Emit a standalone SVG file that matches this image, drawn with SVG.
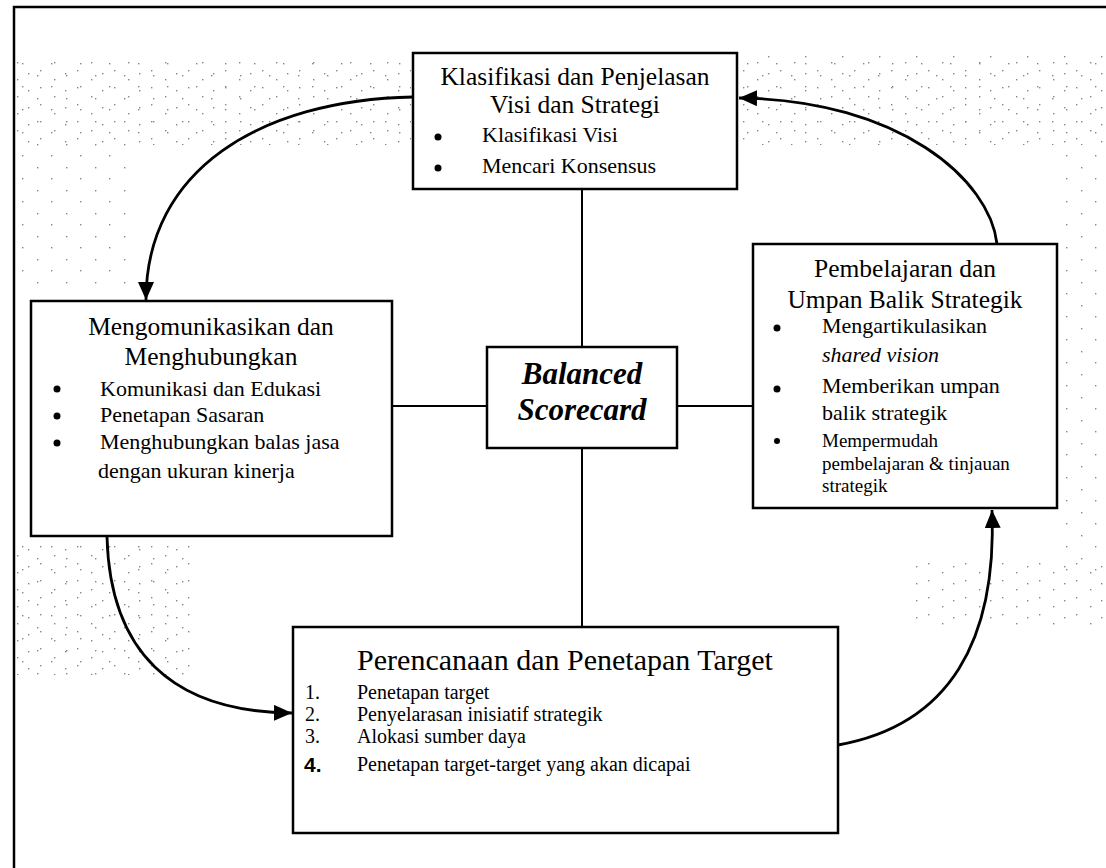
<svg xmlns="http://www.w3.org/2000/svg" width="1106" height="868" viewBox="0 0 1106 868">
  <defs>
    <style>
      .box { fill: #fff; stroke: #000; stroke-width: 2.5; }
      .link { fill: none; stroke: #000; stroke-width: 2; }
      .curve { fill: none; stroke: #000; stroke-width: 2.8; }
      .frame { fill: none; stroke: #000; stroke-width: 2.5; }
      .t { font-family: "Liberation Serif", "Times New Roman", serif; fill: #000; }
      .title { font-size: 25.5px; text-anchor: middle; }
      .item { font-size: 22px; }
      .small { font-size: 19px; }
      .bsc { font-size: 31px; font-weight: bold; font-style: italic; text-anchor: middle; }
      .dot { fill: #000; }
    </style>
    <marker id="head" markerUnits="userSpaceOnUse" markerWidth="20" markerHeight="18" refX="18" refY="8" orient="auto">
      <path d="M0,0 L18,8 L0,16 z" fill="#000"/>
    </marker>
    <pattern id="grainA" width="37" height="17" patternUnits="userSpaceOnUse">
      <rect x="3" y="2" width="1.4" height="1.4" fill="#111"/>
      <rect x="17" y="11" width="1.4" height="1.4" fill="#111"/>
      <rect x="28" y="5" width="1.4" height="1.4" fill="#111"/>
    </pattern>
    <pattern id="grainB" width="29" height="23" patternUnits="userSpaceOnUse">
      <rect x="8" y="6" width="1.4" height="1.4" fill="#111"/>
      <rect x="22" y="17" width="1.4" height="1.4" fill="#111"/>
    </pattern>
  </defs>

  <rect width="1106" height="868" fill="#fff"/>

  <!-- sparse halftone speckle in the background -->
  <g id="texture" opacity="0.5">
    <rect x="16" y="60" width="395" height="85" fill="url(#grainA)"/>
    <rect x="16" y="60" width="395" height="85" fill="url(#grainB)"/>
    <rect x="740" y="55" width="364" height="90" fill="url(#grainA)"/>
    <rect x="740" y="55" width="364" height="90" fill="url(#grainB)"/>
    <rect x="16" y="145" width="120" height="145" fill="url(#grainB)"/>
    <rect x="16" y="545" width="180" height="130" fill="url(#grainA)"/>
    <rect x="16" y="545" width="180" height="130" fill="url(#grainB)"/>
    <rect x="1062" y="150" width="42" height="430" fill="url(#grainB)"/>
    <rect x="910" y="560" width="194" height="70" fill="url(#grainA)"/>
  </g>

  <!-- outer frame -->
  <g id="frame">
    <path class="frame" d="M14,868 L14,7 L1106,7"/>
  </g>

  <!-- connectors -->
  <g id="connectors">
    <line class="link" x1="582" y1="189" x2="582" y2="347"/>
    <line class="link" x1="582" y1="448" x2="582" y2="627"/>
    <line class="link" x1="392" y1="406" x2="487" y2="406"/>
    <line class="link" x1="677" y1="406" x2="753" y2="406"/>
    <path class="curve" d="M413,97 C260,100 146,170 146,300" marker-end="url(#head)"/>
    <path class="curve" d="M997,244 C990,180 900,100 739,98" marker-end="url(#head)"/>
    <path class="curve" d="M107,537 C110,650 170,712 292,713" marker-end="url(#head)"/>
    <path class="curve" d="M838,745 C950,725 997,640 992,510" marker-end="url(#head)"/>
  </g>

  <!-- top: vision and strategy -->
  <g id="node-visi">
    <rect class="box" x="413" y="53" width="324" height="136"/>
    <text class="t title" x="575" y="85" font-size="24">Klasifikasi dan Penjelasan</text>
    <text class="t title" x="575" y="113" font-size="24">Visi dan Strategi</text>
    <circle class="dot" cx="438" cy="137" r="3.5"/>
    <text class="t item" x="482" y="142">Klasifikasi Visi</text>
    <circle class="dot" cx="438" cy="168" r="3.5"/>
    <text class="t item" x="482" y="173">Mencari Konsensus</text>
  </g>

  <!-- left: communicating and linking -->
  <g id="node-komunikasi">
    <rect class="box" x="31" y="301" width="361" height="235"/>
    <text class="t title" x="211" y="335">Mengomunikasikan dan</text>
    <text class="t title" x="211" y="365">Menghubungkan</text>
    <circle class="dot" cx="57" cy="389" r="3.5"/>
    <text class="t item" x="100" y="396">Komunikasi dan Edukasi</text>
    <circle class="dot" cx="57" cy="416" r="3.5"/>
    <text class="t item" x="100" y="422">Penetapan Sasaran</text>
    <circle class="dot" cx="57" cy="443" r="3.5"/>
    <text class="t item" x="100" y="449">Menghubungkan balas jasa</text>
    <text class="t item" x="98" y="478">dengan ukuran kinerja</text>
  </g>

  <!-- centre -->
  <g id="node-bsc">
    <rect class="box" x="487" y="347" width="190" height="101"/>
    <text class="t bsc" x="582" y="384">Balanced</text>
    <text class="t bsc" x="582" y="420">Scorecard</text>
  </g>

  <!-- right: learning and feedback -->
  <g id="node-umpan-balik">
    <rect class="box" x="753" y="244" width="304" height="264"/>
    <text class="t title" x="905" y="277">Pembelajaran dan</text>
    <text class="t title" x="905" y="308">Umpan Balik Strategik</text>
    <circle class="dot" cx="777" cy="328" r="3.5"/>
    <text class="t item" x="822" y="333">Mengartikulasikan</text>
    <text class="t item" x="822" y="362" font-style="italic">shared vision</text>
    <circle class="dot" cx="777" cy="389" r="3.5"/>
    <text class="t item" x="822" y="393">Memberikan umpan</text>
    <text class="t item" x="822" y="420">balik strategik</text>
    <circle class="dot" cx="777" cy="441" r="3"/>
    <text class="t small" x="822" y="447">Mempermudah</text>
    <text class="t small" x="822" y="470">pembelajaran &amp; tinjauan</text>
    <text class="t small" x="822" y="492">strategik</text>
  </g>

  <!-- bottom: planning and targets -->
  <g id="node-target">
    <rect class="box" x="293" y="627" width="545" height="206"/>
    <text class="t" x="565" y="670" font-size="30" text-anchor="middle">Perencanaan dan Penetapan Target</text>
    <text class="t" x="305" y="699" font-size="20">1.</text>
    <text class="t" x="357" y="699" font-size="20">Penetapan target</text>
    <text class="t" x="305" y="721" font-size="20">2.</text>
    <text class="t" x="357" y="721" font-size="20">Penyelarasan inisiatif strategik</text>
    <text class="t" x="305" y="743" font-size="20">3.</text>
    <text class="t" x="357" y="743" font-size="20">Alokasi sumber daya</text>
    <text x="304" y="772" font-family="Liberation Sans, Arial, sans-serif" font-size="21" font-weight="bold">4.</text>
    <text class="t" x="357" y="771" font-size="20">Penetapan target-target yang akan dicapai</text>
  </g>
</svg>
